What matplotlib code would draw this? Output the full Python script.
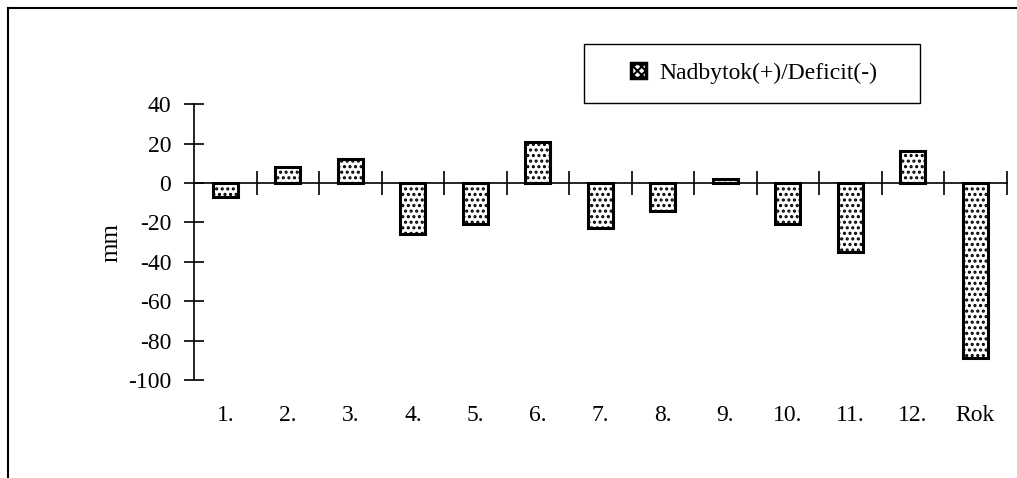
import matplotlib.pyplot as plt
from matplotlib.lines import Line2D
from matplotlib.patches import Rectangle
import matplotlib

matplotlib.rcParams["font.family"] = "Liberation Serif"
matplotlib.rcParams["hatch.linewidth"] = 1.5

# monthly surplus / deficit of precipitation (mm)
mesiace = ["1.", "2.", "3.", "4.", "5.", "6.", "7.", "8.", "9.", "10.", "11.", "12.", "Rok"]
hodnoty = [-7, 8, 12, -26, -21, 21, -23, -14, 2, -21, -35, 16, -89]
y_ticks = [40, 20, 0, -20, -40, -60, -80, -100]

fig = plt.figure(figsize=(10.17, 4.78), dpi=100)
ax = fig.add_axes([0.1908, 0.205, 0.799, 0.577])

x = list(range(len(mesiace)))
ax.bar(x, hodnoty, width=0.4, color="white", edgecolor="black",
       linewidth=2.2, hatch="...")

ax.set_xlim(-0.5, len(mesiace) - 0.5)
ax.set_ylim(-100, 40)
ax.set_yticks(y_ticks)
ax.set_yticklabels([str(v) for v in y_ticks], fontsize=17)
ax.tick_params(axis="y", direction="inout", length=15, width=1.2, pad=9)
ax.set_ylabel("mm", fontsize=18, labelpad=4)

# horizontal axis on the zero line, tick marks between categories
for s in ["top", "right"]:
    ax.spines[s].set_visible(False)
ax.spines["bottom"].set_position(("data", 0))
ax.spines["left"].set_linewidth(1.2)
ax.spines["bottom"].set_linewidth(1.2)
ax.set_xticks([i + 0.5 for i in x])
ax.set_xticklabels([])
ax.tick_params(axis="x", direction="inout", length=17, width=1.2)

# category labels placed below the plot area
sec = ax.secondary_xaxis("bottom")
sec.set_xticks(x)
sec.set_xticklabels(mesiace, fontsize=17)
sec.tick_params(length=0, pad=18)
sec.spines["bottom"].set_visible(False)

# legend box
fig.add_artist(Rectangle((584 / 1017, 1 - 103 / 478), 336 / 1017, 59 / 478,
                         transform=fig.transFigure, facecolor="white",
                         edgecolor="black", linewidth=1.0))
handle = Rectangle((0, 0), 1, 1, facecolor="white", edgecolor="black",
                   linewidth=2.5, hatch="xxxx")
leg = fig.legend([handle], ["Nadbytok(+)/Deficit(-)"], loc="center",
                 bbox_to_anchor=(0.742, 0.847), bbox_transform=fig.transFigure,
                 fontsize=17, frameon=False, handlelength=0.6,
                 handleheight=0.6, handletextpad=0.6, borderpad=0,
                 borderaxespad=0)

# chart border (extends past the bottom and right edge)
fig.add_artist(Line2D([8 / 1017, 1.0], [1 - 8 / 478] * 2, color="black", lw=1.5,
                      transform=fig.transFigure))
fig.add_artist(Line2D([8 / 1017] * 2, [0.0, 1 - 8 / 478], color="black", lw=1.5,
                      transform=fig.transFigure))

fig.savefig("out.png", dpi=100)
